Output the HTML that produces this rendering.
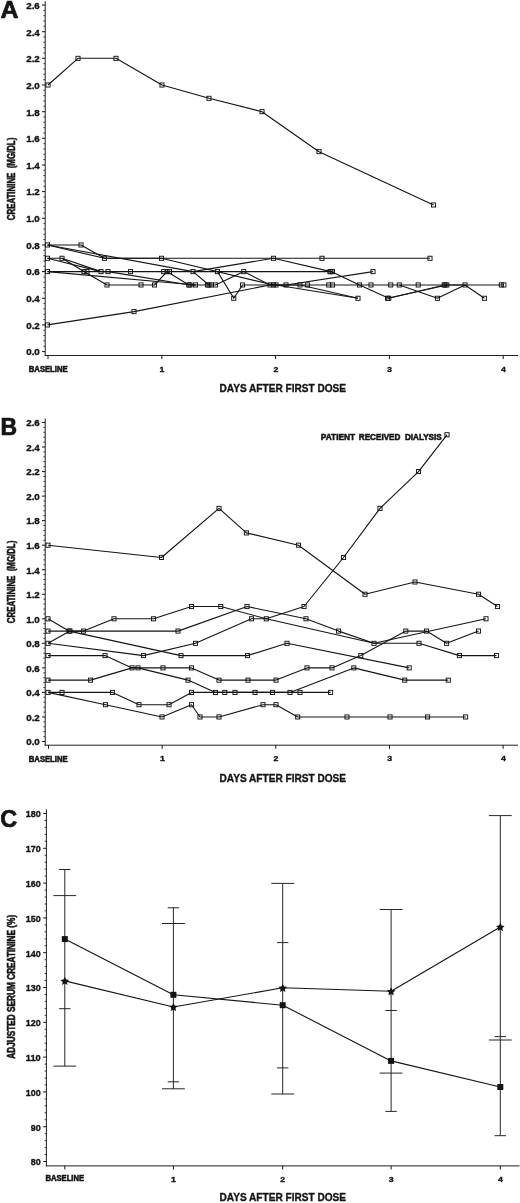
<!DOCTYPE html>
<html><head><meta charset="utf-8"><title>Figure</title>
<style>
html,body{margin:0;padding:0;background:#fff;}
body{width:520px;height:1203px;overflow:hidden;}
svg{display:block;font-family:"Liberation Sans",sans-serif;fill:#141414;}
</style></head><body>
<svg width="520" height="1203" viewBox="0 0 520 1203">
<rect x="0" y="0" width="520" height="1203" fill="#fff"/>
<line x1="45.2" y1="1.2" x2="45.2" y2="356.0" stroke="#141414" stroke-width="0.95"/>
<line x1="44.7" y1="355.5" x2="518.0" y2="355.5" stroke="#141414" stroke-width="0.95"/>
<line x1="42.0" y1="351.6" x2="45.2" y2="351.6" stroke="#141414" stroke-width="1.0"/>
<text x="26.2" y="355.4" font-size="9.9" font-weight="bold" text-anchor="start" xml:space="preserve" textLength="13.6" lengthAdjust="spacingAndGlyphs" stroke="#141414" stroke-width="0.35">0.0</text>
<line x1="43.4" y1="346.3" x2="45.2" y2="346.3" stroke="#141414" stroke-width="0.8"/>
<line x1="43.4" y1="340.9" x2="45.2" y2="340.9" stroke="#141414" stroke-width="0.8"/>
<line x1="43.4" y1="335.6" x2="45.2" y2="335.6" stroke="#141414" stroke-width="0.8"/>
<line x1="43.4" y1="330.3" x2="45.2" y2="330.3" stroke="#141414" stroke-width="0.8"/>
<line x1="42.0" y1="324.9" x2="45.2" y2="324.9" stroke="#141414" stroke-width="1.0"/>
<text x="26.2" y="328.7" font-size="9.9" font-weight="bold" text-anchor="start" xml:space="preserve" textLength="13.6" lengthAdjust="spacingAndGlyphs" stroke="#141414" stroke-width="0.35">0.2</text>
<line x1="43.4" y1="319.6" x2="45.2" y2="319.6" stroke="#141414" stroke-width="0.8"/>
<line x1="43.4" y1="314.3" x2="45.2" y2="314.3" stroke="#141414" stroke-width="0.8"/>
<line x1="43.4" y1="308.9" x2="45.2" y2="308.9" stroke="#141414" stroke-width="0.8"/>
<line x1="43.4" y1="303.6" x2="45.2" y2="303.6" stroke="#141414" stroke-width="0.8"/>
<line x1="42.0" y1="298.3" x2="45.2" y2="298.3" stroke="#141414" stroke-width="1.0"/>
<text x="26.2" y="302.1" font-size="9.9" font-weight="bold" text-anchor="start" xml:space="preserve" textLength="13.6" lengthAdjust="spacingAndGlyphs" stroke="#141414" stroke-width="0.35">0.4</text>
<line x1="43.4" y1="292.9" x2="45.2" y2="292.9" stroke="#141414" stroke-width="0.8"/>
<line x1="43.4" y1="287.6" x2="45.2" y2="287.6" stroke="#141414" stroke-width="0.8"/>
<line x1="43.4" y1="282.3" x2="45.2" y2="282.3" stroke="#141414" stroke-width="0.8"/>
<line x1="43.4" y1="277.0" x2="45.2" y2="277.0" stroke="#141414" stroke-width="0.8"/>
<line x1="42.0" y1="271.6" x2="45.2" y2="271.6" stroke="#141414" stroke-width="1.0"/>
<text x="26.2" y="275.4" font-size="9.9" font-weight="bold" text-anchor="start" xml:space="preserve" textLength="13.6" lengthAdjust="spacingAndGlyphs" stroke="#141414" stroke-width="0.35">0.6</text>
<line x1="43.4" y1="266.3" x2="45.2" y2="266.3" stroke="#141414" stroke-width="0.8"/>
<line x1="43.4" y1="261.0" x2="45.2" y2="261.0" stroke="#141414" stroke-width="0.8"/>
<line x1="43.4" y1="255.6" x2="45.2" y2="255.6" stroke="#141414" stroke-width="0.8"/>
<line x1="43.4" y1="250.3" x2="45.2" y2="250.3" stroke="#141414" stroke-width="0.8"/>
<line x1="42.0" y1="245.0" x2="45.2" y2="245.0" stroke="#141414" stroke-width="1.0"/>
<text x="26.2" y="248.8" font-size="9.9" font-weight="bold" text-anchor="start" xml:space="preserve" textLength="13.6" lengthAdjust="spacingAndGlyphs" stroke="#141414" stroke-width="0.35">0.8</text>
<line x1="43.4" y1="239.6" x2="45.2" y2="239.6" stroke="#141414" stroke-width="0.8"/>
<line x1="43.4" y1="234.3" x2="45.2" y2="234.3" stroke="#141414" stroke-width="0.8"/>
<line x1="43.4" y1="229.0" x2="45.2" y2="229.0" stroke="#141414" stroke-width="0.8"/>
<line x1="43.4" y1="223.6" x2="45.2" y2="223.6" stroke="#141414" stroke-width="0.8"/>
<line x1="42.0" y1="218.3" x2="45.2" y2="218.3" stroke="#141414" stroke-width="1.0"/>
<text x="26.2" y="222.1" font-size="9.9" font-weight="bold" text-anchor="start" xml:space="preserve" textLength="13.6" lengthAdjust="spacingAndGlyphs" stroke="#141414" stroke-width="0.35">1.0</text>
<line x1="43.4" y1="213.0" x2="45.2" y2="213.0" stroke="#141414" stroke-width="0.8"/>
<line x1="43.4" y1="207.6" x2="45.2" y2="207.6" stroke="#141414" stroke-width="0.8"/>
<line x1="43.4" y1="202.3" x2="45.2" y2="202.3" stroke="#141414" stroke-width="0.8"/>
<line x1="43.4" y1="197.0" x2="45.2" y2="197.0" stroke="#141414" stroke-width="0.8"/>
<line x1="42.0" y1="191.6" x2="45.2" y2="191.6" stroke="#141414" stroke-width="1.0"/>
<text x="26.2" y="195.4" font-size="9.9" font-weight="bold" text-anchor="start" xml:space="preserve" textLength="13.6" lengthAdjust="spacingAndGlyphs" stroke="#141414" stroke-width="0.35">1.2</text>
<line x1="43.4" y1="186.3" x2="45.2" y2="186.3" stroke="#141414" stroke-width="0.8"/>
<line x1="43.4" y1="181.0" x2="45.2" y2="181.0" stroke="#141414" stroke-width="0.8"/>
<line x1="43.4" y1="175.6" x2="45.2" y2="175.6" stroke="#141414" stroke-width="0.8"/>
<line x1="43.4" y1="170.3" x2="45.2" y2="170.3" stroke="#141414" stroke-width="0.8"/>
<line x1="42.0" y1="165.0" x2="45.2" y2="165.0" stroke="#141414" stroke-width="1.0"/>
<text x="26.2" y="168.8" font-size="9.9" font-weight="bold" text-anchor="start" xml:space="preserve" textLength="13.6" lengthAdjust="spacingAndGlyphs" stroke="#141414" stroke-width="0.35">1.4</text>
<line x1="43.4" y1="159.6" x2="45.2" y2="159.6" stroke="#141414" stroke-width="0.8"/>
<line x1="43.4" y1="154.3" x2="45.2" y2="154.3" stroke="#141414" stroke-width="0.8"/>
<line x1="43.4" y1="149.0" x2="45.2" y2="149.0" stroke="#141414" stroke-width="0.8"/>
<line x1="43.4" y1="143.7" x2="45.2" y2="143.7" stroke="#141414" stroke-width="0.8"/>
<line x1="42.0" y1="138.3" x2="45.2" y2="138.3" stroke="#141414" stroke-width="1.0"/>
<text x="26.2" y="142.1" font-size="9.9" font-weight="bold" text-anchor="start" xml:space="preserve" textLength="13.6" lengthAdjust="spacingAndGlyphs" stroke="#141414" stroke-width="0.35">1.6</text>
<line x1="43.4" y1="133.0" x2="45.2" y2="133.0" stroke="#141414" stroke-width="0.8"/>
<line x1="43.4" y1="127.7" x2="45.2" y2="127.7" stroke="#141414" stroke-width="0.8"/>
<line x1="43.4" y1="122.3" x2="45.2" y2="122.3" stroke="#141414" stroke-width="0.8"/>
<line x1="43.4" y1="117.0" x2="45.2" y2="117.0" stroke="#141414" stroke-width="0.8"/>
<line x1="42.0" y1="111.7" x2="45.2" y2="111.7" stroke="#141414" stroke-width="1.0"/>
<text x="26.2" y="115.5" font-size="9.9" font-weight="bold" text-anchor="start" xml:space="preserve" textLength="13.6" lengthAdjust="spacingAndGlyphs" stroke="#141414" stroke-width="0.35">1.8</text>
<line x1="43.4" y1="106.3" x2="45.2" y2="106.3" stroke="#141414" stroke-width="0.8"/>
<line x1="43.4" y1="101.0" x2="45.2" y2="101.0" stroke="#141414" stroke-width="0.8"/>
<line x1="43.4" y1="95.7" x2="45.2" y2="95.7" stroke="#141414" stroke-width="0.8"/>
<line x1="43.4" y1="90.3" x2="45.2" y2="90.3" stroke="#141414" stroke-width="0.8"/>
<line x1="42.0" y1="85.0" x2="45.2" y2="85.0" stroke="#141414" stroke-width="1.0"/>
<text x="26.2" y="88.8" font-size="9.9" font-weight="bold" text-anchor="start" xml:space="preserve" textLength="13.6" lengthAdjust="spacingAndGlyphs" stroke="#141414" stroke-width="0.35">2.0</text>
<line x1="43.4" y1="79.7" x2="45.2" y2="79.7" stroke="#141414" stroke-width="0.8"/>
<line x1="43.4" y1="74.3" x2="45.2" y2="74.3" stroke="#141414" stroke-width="0.8"/>
<line x1="43.4" y1="69.0" x2="45.2" y2="69.0" stroke="#141414" stroke-width="0.8"/>
<line x1="43.4" y1="63.7" x2="45.2" y2="63.7" stroke="#141414" stroke-width="0.8"/>
<line x1="42.0" y1="58.3" x2="45.2" y2="58.3" stroke="#141414" stroke-width="1.0"/>
<text x="26.2" y="62.1" font-size="9.9" font-weight="bold" text-anchor="start" xml:space="preserve" textLength="13.6" lengthAdjust="spacingAndGlyphs" stroke="#141414" stroke-width="0.35">2.2</text>
<line x1="43.4" y1="53.0" x2="45.2" y2="53.0" stroke="#141414" stroke-width="0.8"/>
<line x1="43.4" y1="47.7" x2="45.2" y2="47.7" stroke="#141414" stroke-width="0.8"/>
<line x1="43.4" y1="42.3" x2="45.2" y2="42.3" stroke="#141414" stroke-width="0.8"/>
<line x1="43.4" y1="37.0" x2="45.2" y2="37.0" stroke="#141414" stroke-width="0.8"/>
<line x1="42.0" y1="31.7" x2="45.2" y2="31.7" stroke="#141414" stroke-width="1.0"/>
<text x="26.2" y="35.5" font-size="9.9" font-weight="bold" text-anchor="start" xml:space="preserve" textLength="13.6" lengthAdjust="spacingAndGlyphs" stroke="#141414" stroke-width="0.35">2.4</text>
<line x1="43.4" y1="26.3" x2="45.2" y2="26.3" stroke="#141414" stroke-width="0.8"/>
<line x1="43.4" y1="21.0" x2="45.2" y2="21.0" stroke="#141414" stroke-width="0.8"/>
<line x1="43.4" y1="15.7" x2="45.2" y2="15.7" stroke="#141414" stroke-width="0.8"/>
<line x1="43.4" y1="10.4" x2="45.2" y2="10.4" stroke="#141414" stroke-width="0.8"/>
<line x1="42.0" y1="5.0" x2="45.2" y2="5.0" stroke="#141414" stroke-width="1.0"/>
<text x="26.2" y="8.8" font-size="9.9" font-weight="bold" text-anchor="start" xml:space="preserve" textLength="13.6" lengthAdjust="spacingAndGlyphs" stroke="#141414" stroke-width="0.35">2.6</text>
<line x1="48.0" y1="355.5" x2="48.0" y2="359.1" stroke="#141414" stroke-width="1.0"/>
<text x="28.8" y="372.0" font-size="8.2" font-weight="bold" text-anchor="start" xml:space="preserve" textLength="38.8" lengthAdjust="spacingAndGlyphs" stroke="#141414" stroke-width="0.55">BASELINE</text>
<line x1="161.8" y1="355.5" x2="161.8" y2="359.1" stroke="#141414" stroke-width="1.0"/>
<text x="159.6" y="371.5" font-size="7.8" font-weight="bold" text-anchor="start" xml:space="preserve" textLength="4.9" lengthAdjust="spacingAndGlyphs" stroke="#141414" stroke-width="0.35">1</text>
<line x1="275.6" y1="355.5" x2="275.6" y2="359.1" stroke="#141414" stroke-width="1.0"/>
<text x="273.4" y="371.5" font-size="7.8" font-weight="bold" text-anchor="start" xml:space="preserve" textLength="4.9" lengthAdjust="spacingAndGlyphs" stroke="#141414" stroke-width="0.35">2</text>
<line x1="389.4" y1="355.5" x2="389.4" y2="359.1" stroke="#141414" stroke-width="1.0"/>
<text x="387.1" y="371.5" font-size="7.8" font-weight="bold" text-anchor="start" xml:space="preserve" textLength="4.9" lengthAdjust="spacingAndGlyphs" stroke="#141414" stroke-width="0.35">3</text>
<line x1="503.2" y1="355.5" x2="503.2" y2="359.1" stroke="#141414" stroke-width="1.0"/>
<text x="500.9" y="371.5" font-size="7.8" font-weight="bold" text-anchor="start" xml:space="preserve" textLength="4.9" lengthAdjust="spacingAndGlyphs" stroke="#141414" stroke-width="0.35">4</text>
<text x="219.5" y="391.7" font-size="10.7" font-weight="bold" text-anchor="start" xml:space="preserve" textLength="126.6" lengthAdjust="spacingAndGlyphs" stroke="#141414" stroke-width="0.35">DAYS AFTER FIRST DOSE</text>
<text x="-26.1" y="179.0" font-size="10.4" font-weight="bold" text-anchor="start" xml:space="preserve" textLength="82.5" lengthAdjust="spacingAndGlyphs" transform="rotate(-90 15.1 179.0)" stroke="#141414" stroke-width="0.55">CREATININE  (MG/DL)</text>
<text x="0.6" y="18.1" font-size="24" font-weight="bold" text-anchor="start" xml:space="preserve" textLength="18.0" lengthAdjust="spacingAndGlyphs" stroke="#141414" stroke-width="0.7">A</text>
<polyline points="48.0,85.0 78.0,58.3 116.0,58.3 162.0,85.0 209.0,98.3 262.0,111.7 319.0,151.7 433.5,205.0" fill="none" stroke="#141414" stroke-width="1.12" stroke-linejoin="round"/>
<polyline points="47.5,245.0 81.0,245.0 104.5,258.3 322.0,258.3 430.0,258.3" fill="none" stroke="#141414" stroke-width="1.12" stroke-linejoin="round"/>
<polyline points="47.5,245.0 104.5,258.3 161.5,258.3 273.5,285.0 300.0,285.0 358.0,298.3" fill="none" stroke="#141414" stroke-width="1.12" stroke-linejoin="round"/>
<polyline points="47.5,245.0 193.0,271.6 209.0,285.0 215.5,285.0 243.8,271.6 270.0,285.0 286.0,285.0 373.0,271.6" fill="none" stroke="#141414" stroke-width="1.12" stroke-linejoin="round"/>
<polyline points="47.5,258.3 62.0,258.3 84.0,271.6 107.0,285.0 141.0,285.0 154.5,285.0 167.0,271.6 188.8,285.0 207.5,285.0 211.2,285.0" fill="none" stroke="#141414" stroke-width="1.12" stroke-linejoin="round"/>
<polyline points="47.5,258.3 101.0,271.6 108.0,271.6 190.0,285.0 195.5,285.0" fill="none" stroke="#141414" stroke-width="1.12" stroke-linejoin="round"/>
<polyline points="62.0,258.3 101.0,271.6" fill="none" stroke="#141414" stroke-width="1.12" stroke-linejoin="round"/>
<polyline points="47.5,271.6 87.0,271.6 101.0,271.6 108.0,271.6 130.5,271.6 163.7,271.6 169.5,271.6 193.0,271.6 217.5,271.6 233.8,298.3 242.5,285.0 270.0,285.0 276.0,285.0 358.0,298.3" fill="none" stroke="#141414" stroke-width="1.12" stroke-linejoin="round"/>
<polyline points="47.5,271.6 195.5,285.0" fill="none" stroke="#141414" stroke-width="1.12" stroke-linejoin="round"/>
<polyline points="47.5,324.9 134.0,311.6 270.0,285.0 276.0,285.0 286.0,285.0 307.5,285.0 328.8,285.0 332.5,285.0 359.5,285.0 371.0,285.0 390.7,285.0 399.3,285.0 418.2,285.0 444.2,285.0 446.8,285.0 465.0,285.0 501.3,285.0 503.9,285.0" fill="none" stroke="#141414" stroke-width="1.12" stroke-linejoin="round"/>
<polyline points="193.0,271.6 273.5,258.3 331.0,271.6 359.5,285.0 388.8,298.3 445.0,285.0 465.0,285.0 484.4,298.3" fill="none" stroke="#141414" stroke-width="1.12" stroke-linejoin="round"/>
<polyline points="217.5,271.6 243.8,271.6 330.0,271.6 332.5,271.6" fill="none" stroke="#141414" stroke-width="1.12" stroke-linejoin="round"/>
<polyline points="399.3,285.0 437.4,298.3 465.0,285.0" fill="none" stroke="#141414" stroke-width="1.12" stroke-linejoin="round"/>
<polyline points="387.6,298.3 446.8,285.0" fill="none" stroke="#141414" stroke-width="1.12" stroke-linejoin="round"/>
<rect x="45.95" y="82.95" width="4.1" height="4.1" fill="none" stroke="#141414" stroke-width="0.95"/>
<rect x="75.95" y="56.29" width="4.1" height="4.1" fill="none" stroke="#141414" stroke-width="0.95"/>
<rect x="113.95" y="56.29" width="4.1" height="4.1" fill="none" stroke="#141414" stroke-width="0.95"/>
<rect x="159.95" y="82.95" width="4.1" height="4.1" fill="none" stroke="#141414" stroke-width="0.95"/>
<rect x="206.95" y="96.28" width="4.1" height="4.1" fill="none" stroke="#141414" stroke-width="0.95"/>
<rect x="259.95" y="109.61" width="4.1" height="4.1" fill="none" stroke="#141414" stroke-width="0.95"/>
<rect x="316.95" y="149.60" width="4.1" height="4.1" fill="none" stroke="#141414" stroke-width="0.95"/>
<rect x="431.45" y="202.92" width="4.1" height="4.1" fill="none" stroke="#141414" stroke-width="0.95"/>
<rect x="45.45" y="242.91" width="4.1" height="4.1" fill="none" stroke="#141414" stroke-width="0.95"/>
<rect x="78.95" y="242.91" width="4.1" height="4.1" fill="none" stroke="#141414" stroke-width="0.95"/>
<rect x="102.45" y="256.24" width="4.1" height="4.1" fill="none" stroke="#141414" stroke-width="0.95"/>
<rect x="319.95" y="256.24" width="4.1" height="4.1" fill="none" stroke="#141414" stroke-width="0.95"/>
<rect x="427.95" y="256.24" width="4.1" height="4.1" fill="none" stroke="#141414" stroke-width="0.95"/>
<rect x="159.45" y="256.24" width="4.1" height="4.1" fill="none" stroke="#141414" stroke-width="0.95"/>
<rect x="271.45" y="282.90" width="4.1" height="4.1" fill="none" stroke="#141414" stroke-width="0.95"/>
<rect x="297.95" y="282.90" width="4.1" height="4.1" fill="none" stroke="#141414" stroke-width="0.95"/>
<rect x="355.95" y="296.23" width="4.1" height="4.1" fill="none" stroke="#141414" stroke-width="0.95"/>
<rect x="190.95" y="269.57" width="4.1" height="4.1" fill="none" stroke="#141414" stroke-width="0.95"/>
<rect x="206.95" y="282.90" width="4.1" height="4.1" fill="none" stroke="#141414" stroke-width="0.95"/>
<rect x="213.45" y="282.90" width="4.1" height="4.1" fill="none" stroke="#141414" stroke-width="0.95"/>
<rect x="241.70" y="269.57" width="4.1" height="4.1" fill="none" stroke="#141414" stroke-width="0.95"/>
<rect x="267.95" y="282.90" width="4.1" height="4.1" fill="none" stroke="#141414" stroke-width="0.95"/>
<rect x="283.95" y="282.90" width="4.1" height="4.1" fill="none" stroke="#141414" stroke-width="0.95"/>
<rect x="370.95" y="269.57" width="4.1" height="4.1" fill="none" stroke="#141414" stroke-width="0.95"/>
<rect x="45.45" y="256.24" width="4.1" height="4.1" fill="none" stroke="#141414" stroke-width="0.95"/>
<rect x="59.95" y="256.24" width="4.1" height="4.1" fill="none" stroke="#141414" stroke-width="0.95"/>
<rect x="81.95" y="269.57" width="4.1" height="4.1" fill="none" stroke="#141414" stroke-width="0.95"/>
<rect x="104.95" y="282.90" width="4.1" height="4.1" fill="none" stroke="#141414" stroke-width="0.95"/>
<rect x="138.95" y="282.90" width="4.1" height="4.1" fill="none" stroke="#141414" stroke-width="0.95"/>
<rect x="152.45" y="282.90" width="4.1" height="4.1" fill="none" stroke="#141414" stroke-width="0.95"/>
<rect x="164.95" y="269.57" width="4.1" height="4.1" fill="none" stroke="#141414" stroke-width="0.95"/>
<rect x="186.70" y="282.90" width="4.1" height="4.1" fill="none" stroke="#141414" stroke-width="0.95"/>
<rect x="205.45" y="282.90" width="4.1" height="4.1" fill="none" stroke="#141414" stroke-width="0.95"/>
<rect x="209.20" y="282.90" width="4.1" height="4.1" fill="none" stroke="#141414" stroke-width="0.95"/>
<rect x="98.95" y="269.57" width="4.1" height="4.1" fill="none" stroke="#141414" stroke-width="0.95"/>
<rect x="105.95" y="269.57" width="4.1" height="4.1" fill="none" stroke="#141414" stroke-width="0.95"/>
<rect x="187.95" y="282.90" width="4.1" height="4.1" fill="none" stroke="#141414" stroke-width="0.95"/>
<rect x="193.45" y="282.90" width="4.1" height="4.1" fill="none" stroke="#141414" stroke-width="0.95"/>
<rect x="45.45" y="269.57" width="4.1" height="4.1" fill="none" stroke="#141414" stroke-width="0.95"/>
<rect x="84.95" y="269.57" width="4.1" height="4.1" fill="none" stroke="#141414" stroke-width="0.95"/>
<rect x="128.45" y="269.57" width="4.1" height="4.1" fill="none" stroke="#141414" stroke-width="0.95"/>
<rect x="161.65" y="269.57" width="4.1" height="4.1" fill="none" stroke="#141414" stroke-width="0.95"/>
<rect x="167.45" y="269.57" width="4.1" height="4.1" fill="none" stroke="#141414" stroke-width="0.95"/>
<rect x="215.45" y="269.57" width="4.1" height="4.1" fill="none" stroke="#141414" stroke-width="0.95"/>
<rect x="231.70" y="296.23" width="4.1" height="4.1" fill="none" stroke="#141414" stroke-width="0.95"/>
<rect x="240.45" y="282.90" width="4.1" height="4.1" fill="none" stroke="#141414" stroke-width="0.95"/>
<rect x="273.95" y="282.90" width="4.1" height="4.1" fill="none" stroke="#141414" stroke-width="0.95"/>
<rect x="45.45" y="322.89" width="4.1" height="4.1" fill="none" stroke="#141414" stroke-width="0.95"/>
<rect x="131.95" y="309.56" width="4.1" height="4.1" fill="none" stroke="#141414" stroke-width="0.95"/>
<rect x="305.45" y="282.90" width="4.1" height="4.1" fill="none" stroke="#141414" stroke-width="0.95"/>
<rect x="326.70" y="282.90" width="4.1" height="4.1" fill="none" stroke="#141414" stroke-width="0.95"/>
<rect x="330.45" y="282.90" width="4.1" height="4.1" fill="none" stroke="#141414" stroke-width="0.95"/>
<rect x="357.45" y="282.90" width="4.1" height="4.1" fill="none" stroke="#141414" stroke-width="0.95"/>
<rect x="368.95" y="282.90" width="4.1" height="4.1" fill="none" stroke="#141414" stroke-width="0.95"/>
<rect x="388.65" y="282.90" width="4.1" height="4.1" fill="none" stroke="#141414" stroke-width="0.95"/>
<rect x="397.25" y="282.90" width="4.1" height="4.1" fill="none" stroke="#141414" stroke-width="0.95"/>
<rect x="416.15" y="282.90" width="4.1" height="4.1" fill="none" stroke="#141414" stroke-width="0.95"/>
<rect x="442.15" y="282.90" width="4.1" height="4.1" fill="none" stroke="#141414" stroke-width="0.95"/>
<rect x="444.75" y="282.90" width="4.1" height="4.1" fill="none" stroke="#141414" stroke-width="0.95"/>
<rect x="462.95" y="282.90" width="4.1" height="4.1" fill="none" stroke="#141414" stroke-width="0.95"/>
<rect x="499.25" y="282.90" width="4.1" height="4.1" fill="none" stroke="#141414" stroke-width="0.95"/>
<rect x="501.85" y="282.90" width="4.1" height="4.1" fill="none" stroke="#141414" stroke-width="0.95"/>
<rect x="271.45" y="256.24" width="4.1" height="4.1" fill="none" stroke="#141414" stroke-width="0.95"/>
<rect x="328.95" y="269.57" width="4.1" height="4.1" fill="none" stroke="#141414" stroke-width="0.95"/>
<rect x="386.70" y="296.23" width="4.1" height="4.1" fill="none" stroke="#141414" stroke-width="0.95"/>
<rect x="442.95" y="282.90" width="4.1" height="4.1" fill="none" stroke="#141414" stroke-width="0.95"/>
<rect x="482.35" y="296.23" width="4.1" height="4.1" fill="none" stroke="#141414" stroke-width="0.95"/>
<rect x="327.95" y="269.57" width="4.1" height="4.1" fill="none" stroke="#141414" stroke-width="0.95"/>
<rect x="330.45" y="269.57" width="4.1" height="4.1" fill="none" stroke="#141414" stroke-width="0.95"/>
<rect x="435.35" y="296.23" width="4.1" height="4.1" fill="none" stroke="#141414" stroke-width="0.95"/>
<rect x="385.55" y="296.23" width="4.1" height="4.1" fill="none" stroke="#141414" stroke-width="0.95"/>
<line x1="45.2" y1="418.5" x2="45.2" y2="745.7" stroke="#141414" stroke-width="0.95"/>
<line x1="44.7" y1="745.2" x2="518.0" y2="745.2" stroke="#141414" stroke-width="0.95"/>
<line x1="42.0" y1="741.5" x2="45.2" y2="741.5" stroke="#141414" stroke-width="1.0"/>
<text x="26.2" y="745.3" font-size="9.9" font-weight="bold" text-anchor="start" xml:space="preserve" textLength="13.6" lengthAdjust="spacingAndGlyphs" stroke="#141414" stroke-width="0.35">0.0</text>
<line x1="43.4" y1="736.6" x2="45.2" y2="736.6" stroke="#141414" stroke-width="0.8"/>
<line x1="43.4" y1="731.7" x2="45.2" y2="731.7" stroke="#141414" stroke-width="0.8"/>
<line x1="43.4" y1="726.8" x2="45.2" y2="726.8" stroke="#141414" stroke-width="0.8"/>
<line x1="43.4" y1="721.9" x2="45.2" y2="721.9" stroke="#141414" stroke-width="0.8"/>
<line x1="42.0" y1="717.0" x2="45.2" y2="717.0" stroke="#141414" stroke-width="1.0"/>
<text x="26.2" y="720.8" font-size="9.9" font-weight="bold" text-anchor="start" xml:space="preserve" textLength="13.6" lengthAdjust="spacingAndGlyphs" stroke="#141414" stroke-width="0.35">0.2</text>
<line x1="43.4" y1="712.1" x2="45.2" y2="712.1" stroke="#141414" stroke-width="0.8"/>
<line x1="43.4" y1="707.1" x2="45.2" y2="707.1" stroke="#141414" stroke-width="0.8"/>
<line x1="43.4" y1="702.2" x2="45.2" y2="702.2" stroke="#141414" stroke-width="0.8"/>
<line x1="43.4" y1="697.3" x2="45.2" y2="697.3" stroke="#141414" stroke-width="0.8"/>
<line x1="42.0" y1="692.4" x2="45.2" y2="692.4" stroke="#141414" stroke-width="1.0"/>
<text x="26.2" y="696.2" font-size="9.9" font-weight="bold" text-anchor="start" xml:space="preserve" textLength="13.6" lengthAdjust="spacingAndGlyphs" stroke="#141414" stroke-width="0.35">0.4</text>
<line x1="43.4" y1="687.5" x2="45.2" y2="687.5" stroke="#141414" stroke-width="0.8"/>
<line x1="43.4" y1="682.6" x2="45.2" y2="682.6" stroke="#141414" stroke-width="0.8"/>
<line x1="43.4" y1="677.7" x2="45.2" y2="677.7" stroke="#141414" stroke-width="0.8"/>
<line x1="43.4" y1="672.8" x2="45.2" y2="672.8" stroke="#141414" stroke-width="0.8"/>
<line x1="42.0" y1="667.9" x2="45.2" y2="667.9" stroke="#141414" stroke-width="1.0"/>
<text x="26.2" y="671.7" font-size="9.9" font-weight="bold" text-anchor="start" xml:space="preserve" textLength="13.6" lengthAdjust="spacingAndGlyphs" stroke="#141414" stroke-width="0.35">0.6</text>
<line x1="43.4" y1="663.0" x2="45.2" y2="663.0" stroke="#141414" stroke-width="0.8"/>
<line x1="43.4" y1="658.1" x2="45.2" y2="658.1" stroke="#141414" stroke-width="0.8"/>
<line x1="43.4" y1="653.2" x2="45.2" y2="653.2" stroke="#141414" stroke-width="0.8"/>
<line x1="43.4" y1="648.2" x2="45.2" y2="648.2" stroke="#141414" stroke-width="0.8"/>
<line x1="42.0" y1="643.3" x2="45.2" y2="643.3" stroke="#141414" stroke-width="1.0"/>
<text x="26.2" y="647.1" font-size="9.9" font-weight="bold" text-anchor="start" xml:space="preserve" textLength="13.6" lengthAdjust="spacingAndGlyphs" stroke="#141414" stroke-width="0.35">0.8</text>
<line x1="43.4" y1="638.4" x2="45.2" y2="638.4" stroke="#141414" stroke-width="0.8"/>
<line x1="43.4" y1="633.5" x2="45.2" y2="633.5" stroke="#141414" stroke-width="0.8"/>
<line x1="43.4" y1="628.6" x2="45.2" y2="628.6" stroke="#141414" stroke-width="0.8"/>
<line x1="43.4" y1="623.7" x2="45.2" y2="623.7" stroke="#141414" stroke-width="0.8"/>
<line x1="42.0" y1="618.8" x2="45.2" y2="618.8" stroke="#141414" stroke-width="1.0"/>
<text x="26.2" y="622.6" font-size="9.9" font-weight="bold" text-anchor="start" xml:space="preserve" textLength="13.6" lengthAdjust="spacingAndGlyphs" stroke="#141414" stroke-width="0.35">1.0</text>
<line x1="43.4" y1="613.9" x2="45.2" y2="613.9" stroke="#141414" stroke-width="0.8"/>
<line x1="43.4" y1="609.0" x2="45.2" y2="609.0" stroke="#141414" stroke-width="0.8"/>
<line x1="43.4" y1="604.1" x2="45.2" y2="604.1" stroke="#141414" stroke-width="0.8"/>
<line x1="43.4" y1="599.2" x2="45.2" y2="599.2" stroke="#141414" stroke-width="0.8"/>
<line x1="42.0" y1="594.3" x2="45.2" y2="594.3" stroke="#141414" stroke-width="1.0"/>
<text x="26.2" y="598.1" font-size="9.9" font-weight="bold" text-anchor="start" xml:space="preserve" textLength="13.6" lengthAdjust="spacingAndGlyphs" stroke="#141414" stroke-width="0.35">1.2</text>
<line x1="43.4" y1="589.4" x2="45.2" y2="589.4" stroke="#141414" stroke-width="0.8"/>
<line x1="43.4" y1="584.4" x2="45.2" y2="584.4" stroke="#141414" stroke-width="0.8"/>
<line x1="43.4" y1="579.5" x2="45.2" y2="579.5" stroke="#141414" stroke-width="0.8"/>
<line x1="43.4" y1="574.6" x2="45.2" y2="574.6" stroke="#141414" stroke-width="0.8"/>
<line x1="42.0" y1="569.7" x2="45.2" y2="569.7" stroke="#141414" stroke-width="1.0"/>
<text x="26.2" y="573.5" font-size="9.9" font-weight="bold" text-anchor="start" xml:space="preserve" textLength="13.6" lengthAdjust="spacingAndGlyphs" stroke="#141414" stroke-width="0.35">1.4</text>
<line x1="43.4" y1="564.8" x2="45.2" y2="564.8" stroke="#141414" stroke-width="0.8"/>
<line x1="43.4" y1="559.9" x2="45.2" y2="559.9" stroke="#141414" stroke-width="0.8"/>
<line x1="43.4" y1="555.0" x2="45.2" y2="555.0" stroke="#141414" stroke-width="0.8"/>
<line x1="43.4" y1="550.1" x2="45.2" y2="550.1" stroke="#141414" stroke-width="0.8"/>
<line x1="42.0" y1="545.2" x2="45.2" y2="545.2" stroke="#141414" stroke-width="1.0"/>
<text x="26.2" y="549.0" font-size="9.9" font-weight="bold" text-anchor="start" xml:space="preserve" textLength="13.6" lengthAdjust="spacingAndGlyphs" stroke="#141414" stroke-width="0.35">1.6</text>
<line x1="43.4" y1="540.3" x2="45.2" y2="540.3" stroke="#141414" stroke-width="0.8"/>
<line x1="43.4" y1="535.4" x2="45.2" y2="535.4" stroke="#141414" stroke-width="0.8"/>
<line x1="43.4" y1="530.5" x2="45.2" y2="530.5" stroke="#141414" stroke-width="0.8"/>
<line x1="43.4" y1="525.5" x2="45.2" y2="525.5" stroke="#141414" stroke-width="0.8"/>
<line x1="42.0" y1="520.6" x2="45.2" y2="520.6" stroke="#141414" stroke-width="1.0"/>
<text x="26.2" y="524.4" font-size="9.9" font-weight="bold" text-anchor="start" xml:space="preserve" textLength="13.6" lengthAdjust="spacingAndGlyphs" stroke="#141414" stroke-width="0.35">1.8</text>
<line x1="43.4" y1="515.7" x2="45.2" y2="515.7" stroke="#141414" stroke-width="0.8"/>
<line x1="43.4" y1="510.8" x2="45.2" y2="510.8" stroke="#141414" stroke-width="0.8"/>
<line x1="43.4" y1="505.9" x2="45.2" y2="505.9" stroke="#141414" stroke-width="0.8"/>
<line x1="43.4" y1="501.0" x2="45.2" y2="501.0" stroke="#141414" stroke-width="0.8"/>
<line x1="42.0" y1="496.1" x2="45.2" y2="496.1" stroke="#141414" stroke-width="1.0"/>
<text x="26.2" y="499.9" font-size="9.9" font-weight="bold" text-anchor="start" xml:space="preserve" textLength="13.6" lengthAdjust="spacingAndGlyphs" stroke="#141414" stroke-width="0.35">2.0</text>
<line x1="43.4" y1="491.2" x2="45.2" y2="491.2" stroke="#141414" stroke-width="0.8"/>
<line x1="43.4" y1="486.3" x2="45.2" y2="486.3" stroke="#141414" stroke-width="0.8"/>
<line x1="43.4" y1="481.4" x2="45.2" y2="481.4" stroke="#141414" stroke-width="0.8"/>
<line x1="43.4" y1="476.5" x2="45.2" y2="476.5" stroke="#141414" stroke-width="0.8"/>
<line x1="42.0" y1="471.6" x2="45.2" y2="471.6" stroke="#141414" stroke-width="1.0"/>
<text x="26.2" y="475.4" font-size="9.9" font-weight="bold" text-anchor="start" xml:space="preserve" textLength="13.6" lengthAdjust="spacingAndGlyphs" stroke="#141414" stroke-width="0.35">2.2</text>
<line x1="43.4" y1="466.7" x2="45.2" y2="466.7" stroke="#141414" stroke-width="0.8"/>
<line x1="43.4" y1="461.7" x2="45.2" y2="461.7" stroke="#141414" stroke-width="0.8"/>
<line x1="43.4" y1="456.8" x2="45.2" y2="456.8" stroke="#141414" stroke-width="0.8"/>
<line x1="43.4" y1="451.9" x2="45.2" y2="451.9" stroke="#141414" stroke-width="0.8"/>
<line x1="42.0" y1="447.0" x2="45.2" y2="447.0" stroke="#141414" stroke-width="1.0"/>
<text x="26.2" y="450.8" font-size="9.9" font-weight="bold" text-anchor="start" xml:space="preserve" textLength="13.6" lengthAdjust="spacingAndGlyphs" stroke="#141414" stroke-width="0.35">2.4</text>
<line x1="43.4" y1="442.1" x2="45.2" y2="442.1" stroke="#141414" stroke-width="0.8"/>
<line x1="43.4" y1="437.2" x2="45.2" y2="437.2" stroke="#141414" stroke-width="0.8"/>
<line x1="43.4" y1="432.3" x2="45.2" y2="432.3" stroke="#141414" stroke-width="0.8"/>
<line x1="43.4" y1="427.4" x2="45.2" y2="427.4" stroke="#141414" stroke-width="0.8"/>
<line x1="42.0" y1="422.5" x2="45.2" y2="422.5" stroke="#141414" stroke-width="1.0"/>
<text x="26.2" y="426.3" font-size="9.9" font-weight="bold" text-anchor="start" xml:space="preserve" textLength="13.6" lengthAdjust="spacingAndGlyphs" stroke="#141414" stroke-width="0.35">2.6</text>
<line x1="48.5" y1="745.2" x2="48.5" y2="748.8" stroke="#141414" stroke-width="1.0"/>
<text x="28.8" y="761.6" font-size="8.2" font-weight="bold" text-anchor="start" xml:space="preserve" textLength="38.8" lengthAdjust="spacingAndGlyphs" stroke="#141414" stroke-width="0.55">BASELINE</text>
<line x1="162.2" y1="745.2" x2="162.2" y2="748.8" stroke="#141414" stroke-width="1.0"/>
<text x="159.9" y="761.1" font-size="7.8" font-weight="bold" text-anchor="start" xml:space="preserve" textLength="4.9" lengthAdjust="spacingAndGlyphs" stroke="#141414" stroke-width="0.35">1</text>
<line x1="275.8" y1="745.2" x2="275.8" y2="748.8" stroke="#141414" stroke-width="1.0"/>
<text x="273.6" y="761.1" font-size="7.8" font-weight="bold" text-anchor="start" xml:space="preserve" textLength="4.9" lengthAdjust="spacingAndGlyphs" stroke="#141414" stroke-width="0.35">2</text>
<line x1="389.5" y1="745.2" x2="389.5" y2="748.8" stroke="#141414" stroke-width="1.0"/>
<text x="387.2" y="761.1" font-size="7.8" font-weight="bold" text-anchor="start" xml:space="preserve" textLength="4.9" lengthAdjust="spacingAndGlyphs" stroke="#141414" stroke-width="0.35">3</text>
<line x1="503.1" y1="745.2" x2="503.1" y2="748.8" stroke="#141414" stroke-width="1.0"/>
<text x="500.9" y="761.1" font-size="7.8" font-weight="bold" text-anchor="start" xml:space="preserve" textLength="4.9" lengthAdjust="spacingAndGlyphs" stroke="#141414" stroke-width="0.35">4</text>
<text x="219.5" y="781.9" font-size="10.7" font-weight="bold" text-anchor="start" xml:space="preserve" textLength="126.6" lengthAdjust="spacingAndGlyphs" stroke="#141414" stroke-width="0.35">DAYS AFTER FIRST DOSE</text>
<text x="-26.1" y="582.0" font-size="10.4" font-weight="bold" text-anchor="start" xml:space="preserve" textLength="82.5" lengthAdjust="spacingAndGlyphs" transform="rotate(-90 15.1 582.0)" stroke="#141414" stroke-width="0.55">CREATININE  (MG/DL)</text>
<text x="0.5" y="435.0" font-size="24" font-weight="bold" text-anchor="start" xml:space="preserve" textLength="16.6" lengthAdjust="spacingAndGlyphs" stroke="#141414" stroke-width="0.7">B</text>
<text x="320.8" y="440.1" font-size="9.6" font-weight="bold" text-anchor="start" xml:space="preserve" textLength="34.2" lengthAdjust="spacingAndGlyphs" stroke="#141414" stroke-width="0.6">PATIENT</text>
<text x="358.8" y="440.1" font-size="9.6" font-weight="bold" text-anchor="start" xml:space="preserve" textLength="41.6" lengthAdjust="spacingAndGlyphs" stroke="#141414" stroke-width="0.6">RECEIVED</text>
<text x="405.0" y="440.1" font-size="9.6" font-weight="bold" text-anchor="start" xml:space="preserve" textLength="36.6" lengthAdjust="spacingAndGlyphs" stroke="#141414" stroke-width="0.6">DIALYSIS</text>
<polyline points="48.0,545.2 161.5,557.5 219.0,508.4 246.4,532.9 298.5,545.2 365.0,594.3 415.0,582.0 478.5,594.3 497.5,606.5" fill="none" stroke="#141414" stroke-width="1.12" stroke-linejoin="round"/>
<polyline points="48.0,643.3 70.0,631.1 83.5,631.1 114.0,618.8 153.5,618.8 191.5,606.5 220.8,606.5 266.3,618.8 374.0,643.3 486.0,618.8" fill="none" stroke="#141414" stroke-width="1.12" stroke-linejoin="round"/>
<polyline points="48.0,643.3 143.5,655.6 195.5,643.3 251.5,618.8 266.3,618.8 304.0,606.5 343.5,557.5 380.0,508.4 418.5,471.6 447.0,434.8" fill="none" stroke="#141414" stroke-width="1.12" stroke-linejoin="round"/>
<polyline points="48.0,631.1 69.0,631.1 178.0,631.1 247.0,606.5 306.0,618.8 338.6,631.1 374.0,643.3 419.0,643.3 459.4,655.6 496.5,655.6" fill="none" stroke="#141414" stroke-width="1.12" stroke-linejoin="round"/>
<polyline points="48.0,618.8 69.0,631.1 181.0,655.6 247.5,655.6 287.0,643.3 409.2,667.9" fill="none" stroke="#141414" stroke-width="1.12" stroke-linejoin="round"/>
<polyline points="48.0,655.6 105.0,655.6 132.0,667.9 138.0,667.9 163.0,667.9 191.5,667.9 219.0,680.1 248.0,680.1 276.0,680.1 307.0,667.9 332.0,667.9 360.8,655.6 405.8,631.1 426.5,631.1 446.6,643.3 478.5,631.1" fill="none" stroke="#141414" stroke-width="1.12" stroke-linejoin="round"/>
<polyline points="48.0,680.1 90.5,680.1 132.0,667.9 138.0,667.9 188.0,680.1 215.5,692.4 224.8,692.4 235.0,692.4 255.0,692.4 272.5,692.4 290.0,692.4 353.8,667.9 404.7,680.1 448.3,680.1" fill="none" stroke="#141414" stroke-width="1.12" stroke-linejoin="round"/>
<polyline points="48.0,692.4 62.0,692.4 112.5,692.4 139.0,704.7 169.0,704.7 191.5,692.4 215.5,692.4 300.0,692.4 330.6,692.4" fill="none" stroke="#141414" stroke-width="1.12" stroke-linejoin="round"/>
<polyline points="48.0,692.4 105.5,704.7 162.0,717.0 191.5,704.7 200.0,717.0 219.0,717.0 263.0,704.7 276.0,704.7 297.7,717.0 347.0,717.0 390.0,717.0 427.6,717.0 465.6,717.0" fill="none" stroke="#141414" stroke-width="1.12" stroke-linejoin="round"/>
<rect x="45.95" y="543.13" width="4.1" height="4.1" fill="none" stroke="#141414" stroke-width="0.95"/>
<rect x="159.45" y="555.40" width="4.1" height="4.1" fill="none" stroke="#141414" stroke-width="0.95"/>
<rect x="216.95" y="506.32" width="4.1" height="4.1" fill="none" stroke="#141414" stroke-width="0.95"/>
<rect x="244.35" y="530.86" width="4.1" height="4.1" fill="none" stroke="#141414" stroke-width="0.95"/>
<rect x="296.45" y="543.13" width="4.1" height="4.1" fill="none" stroke="#141414" stroke-width="0.95"/>
<rect x="362.95" y="592.21" width="4.1" height="4.1" fill="none" stroke="#141414" stroke-width="0.95"/>
<rect x="412.95" y="579.94" width="4.1" height="4.1" fill="none" stroke="#141414" stroke-width="0.95"/>
<rect x="476.45" y="592.21" width="4.1" height="4.1" fill="none" stroke="#141414" stroke-width="0.95"/>
<rect x="495.45" y="604.48" width="4.1" height="4.1" fill="none" stroke="#141414" stroke-width="0.95"/>
<rect x="45.95" y="641.29" width="4.1" height="4.1" fill="none" stroke="#141414" stroke-width="0.95"/>
<rect x="67.95" y="629.02" width="4.1" height="4.1" fill="none" stroke="#141414" stroke-width="0.95"/>
<rect x="81.45" y="629.02" width="4.1" height="4.1" fill="none" stroke="#141414" stroke-width="0.95"/>
<rect x="111.95" y="616.75" width="4.1" height="4.1" fill="none" stroke="#141414" stroke-width="0.95"/>
<rect x="151.45" y="616.75" width="4.1" height="4.1" fill="none" stroke="#141414" stroke-width="0.95"/>
<rect x="189.45" y="604.48" width="4.1" height="4.1" fill="none" stroke="#141414" stroke-width="0.95"/>
<rect x="218.75" y="604.48" width="4.1" height="4.1" fill="none" stroke="#141414" stroke-width="0.95"/>
<rect x="264.25" y="616.75" width="4.1" height="4.1" fill="none" stroke="#141414" stroke-width="0.95"/>
<rect x="371.95" y="641.29" width="4.1" height="4.1" fill="none" stroke="#141414" stroke-width="0.95"/>
<rect x="483.95" y="616.75" width="4.1" height="4.1" fill="none" stroke="#141414" stroke-width="0.95"/>
<rect x="141.45" y="653.56" width="4.1" height="4.1" fill="none" stroke="#141414" stroke-width="0.95"/>
<rect x="193.45" y="641.29" width="4.1" height="4.1" fill="none" stroke="#141414" stroke-width="0.95"/>
<rect x="249.45" y="616.75" width="4.1" height="4.1" fill="none" stroke="#141414" stroke-width="0.95"/>
<rect x="301.95" y="604.48" width="4.1" height="4.1" fill="none" stroke="#141414" stroke-width="0.95"/>
<rect x="341.45" y="555.40" width="4.1" height="4.1" fill="none" stroke="#141414" stroke-width="0.95"/>
<rect x="377.95" y="506.32" width="4.1" height="4.1" fill="none" stroke="#141414" stroke-width="0.95"/>
<rect x="416.45" y="469.51" width="4.1" height="4.1" fill="none" stroke="#141414" stroke-width="0.95"/>
<rect x="444.95" y="432.70" width="4.1" height="4.1" fill="none" stroke="#141414" stroke-width="0.95"/>
<rect x="45.95" y="629.02" width="4.1" height="4.1" fill="none" stroke="#141414" stroke-width="0.95"/>
<rect x="66.95" y="629.02" width="4.1" height="4.1" fill="none" stroke="#141414" stroke-width="0.95"/>
<rect x="175.95" y="629.02" width="4.1" height="4.1" fill="none" stroke="#141414" stroke-width="0.95"/>
<rect x="244.95" y="604.48" width="4.1" height="4.1" fill="none" stroke="#141414" stroke-width="0.95"/>
<rect x="303.95" y="616.75" width="4.1" height="4.1" fill="none" stroke="#141414" stroke-width="0.95"/>
<rect x="336.55" y="629.02" width="4.1" height="4.1" fill="none" stroke="#141414" stroke-width="0.95"/>
<rect x="416.95" y="641.29" width="4.1" height="4.1" fill="none" stroke="#141414" stroke-width="0.95"/>
<rect x="457.35" y="653.56" width="4.1" height="4.1" fill="none" stroke="#141414" stroke-width="0.95"/>
<rect x="494.45" y="653.56" width="4.1" height="4.1" fill="none" stroke="#141414" stroke-width="0.95"/>
<rect x="45.95" y="616.75" width="4.1" height="4.1" fill="none" stroke="#141414" stroke-width="0.95"/>
<rect x="178.95" y="653.56" width="4.1" height="4.1" fill="none" stroke="#141414" stroke-width="0.95"/>
<rect x="245.45" y="653.56" width="4.1" height="4.1" fill="none" stroke="#141414" stroke-width="0.95"/>
<rect x="284.95" y="641.29" width="4.1" height="4.1" fill="none" stroke="#141414" stroke-width="0.95"/>
<rect x="407.15" y="665.83" width="4.1" height="4.1" fill="none" stroke="#141414" stroke-width="0.95"/>
<rect x="45.95" y="653.56" width="4.1" height="4.1" fill="none" stroke="#141414" stroke-width="0.95"/>
<rect x="102.95" y="653.56" width="4.1" height="4.1" fill="none" stroke="#141414" stroke-width="0.95"/>
<rect x="129.95" y="665.83" width="4.1" height="4.1" fill="none" stroke="#141414" stroke-width="0.95"/>
<rect x="135.95" y="665.83" width="4.1" height="4.1" fill="none" stroke="#141414" stroke-width="0.95"/>
<rect x="160.95" y="665.83" width="4.1" height="4.1" fill="none" stroke="#141414" stroke-width="0.95"/>
<rect x="189.45" y="665.83" width="4.1" height="4.1" fill="none" stroke="#141414" stroke-width="0.95"/>
<rect x="216.95" y="678.10" width="4.1" height="4.1" fill="none" stroke="#141414" stroke-width="0.95"/>
<rect x="245.95" y="678.10" width="4.1" height="4.1" fill="none" stroke="#141414" stroke-width="0.95"/>
<rect x="273.95" y="678.10" width="4.1" height="4.1" fill="none" stroke="#141414" stroke-width="0.95"/>
<rect x="304.95" y="665.83" width="4.1" height="4.1" fill="none" stroke="#141414" stroke-width="0.95"/>
<rect x="329.95" y="665.83" width="4.1" height="4.1" fill="none" stroke="#141414" stroke-width="0.95"/>
<rect x="358.75" y="653.56" width="4.1" height="4.1" fill="none" stroke="#141414" stroke-width="0.95"/>
<rect x="403.75" y="629.02" width="4.1" height="4.1" fill="none" stroke="#141414" stroke-width="0.95"/>
<rect x="424.45" y="629.02" width="4.1" height="4.1" fill="none" stroke="#141414" stroke-width="0.95"/>
<rect x="444.55" y="641.29" width="4.1" height="4.1" fill="none" stroke="#141414" stroke-width="0.95"/>
<rect x="476.45" y="629.02" width="4.1" height="4.1" fill="none" stroke="#141414" stroke-width="0.95"/>
<rect x="45.95" y="678.10" width="4.1" height="4.1" fill="none" stroke="#141414" stroke-width="0.95"/>
<rect x="88.45" y="678.10" width="4.1" height="4.1" fill="none" stroke="#141414" stroke-width="0.95"/>
<rect x="185.95" y="678.10" width="4.1" height="4.1" fill="none" stroke="#141414" stroke-width="0.95"/>
<rect x="213.45" y="690.37" width="4.1" height="4.1" fill="none" stroke="#141414" stroke-width="0.95"/>
<rect x="222.75" y="690.37" width="4.1" height="4.1" fill="none" stroke="#141414" stroke-width="0.95"/>
<rect x="232.95" y="690.37" width="4.1" height="4.1" fill="none" stroke="#141414" stroke-width="0.95"/>
<rect x="252.95" y="690.37" width="4.1" height="4.1" fill="none" stroke="#141414" stroke-width="0.95"/>
<rect x="270.45" y="690.37" width="4.1" height="4.1" fill="none" stroke="#141414" stroke-width="0.95"/>
<rect x="287.95" y="690.37" width="4.1" height="4.1" fill="none" stroke="#141414" stroke-width="0.95"/>
<rect x="351.75" y="665.83" width="4.1" height="4.1" fill="none" stroke="#141414" stroke-width="0.95"/>
<rect x="402.65" y="678.10" width="4.1" height="4.1" fill="none" stroke="#141414" stroke-width="0.95"/>
<rect x="446.25" y="678.10" width="4.1" height="4.1" fill="none" stroke="#141414" stroke-width="0.95"/>
<rect x="45.95" y="690.37" width="4.1" height="4.1" fill="none" stroke="#141414" stroke-width="0.95"/>
<rect x="59.95" y="690.37" width="4.1" height="4.1" fill="none" stroke="#141414" stroke-width="0.95"/>
<rect x="110.45" y="690.37" width="4.1" height="4.1" fill="none" stroke="#141414" stroke-width="0.95"/>
<rect x="136.95" y="702.64" width="4.1" height="4.1" fill="none" stroke="#141414" stroke-width="0.95"/>
<rect x="166.95" y="702.64" width="4.1" height="4.1" fill="none" stroke="#141414" stroke-width="0.95"/>
<rect x="189.45" y="690.37" width="4.1" height="4.1" fill="none" stroke="#141414" stroke-width="0.95"/>
<rect x="297.95" y="690.37" width="4.1" height="4.1" fill="none" stroke="#141414" stroke-width="0.95"/>
<rect x="328.55" y="690.37" width="4.1" height="4.1" fill="none" stroke="#141414" stroke-width="0.95"/>
<rect x="103.45" y="702.64" width="4.1" height="4.1" fill="none" stroke="#141414" stroke-width="0.95"/>
<rect x="159.95" y="714.91" width="4.1" height="4.1" fill="none" stroke="#141414" stroke-width="0.95"/>
<rect x="189.45" y="702.64" width="4.1" height="4.1" fill="none" stroke="#141414" stroke-width="0.95"/>
<rect x="197.95" y="714.91" width="4.1" height="4.1" fill="none" stroke="#141414" stroke-width="0.95"/>
<rect x="216.95" y="714.91" width="4.1" height="4.1" fill="none" stroke="#141414" stroke-width="0.95"/>
<rect x="260.95" y="702.64" width="4.1" height="4.1" fill="none" stroke="#141414" stroke-width="0.95"/>
<rect x="273.95" y="702.64" width="4.1" height="4.1" fill="none" stroke="#141414" stroke-width="0.95"/>
<rect x="295.65" y="714.91" width="4.1" height="4.1" fill="none" stroke="#141414" stroke-width="0.95"/>
<rect x="344.95" y="714.91" width="4.1" height="4.1" fill="none" stroke="#141414" stroke-width="0.95"/>
<rect x="387.95" y="714.91" width="4.1" height="4.1" fill="none" stroke="#141414" stroke-width="0.95"/>
<rect x="425.55" y="714.91" width="4.1" height="4.1" fill="none" stroke="#141414" stroke-width="0.95"/>
<rect x="463.55" y="714.91" width="4.1" height="4.1" fill="none" stroke="#141414" stroke-width="0.95"/>
<line x1="46.4" y1="809.4" x2="46.4" y2="1166.4" stroke="#141414" stroke-width="0.95"/>
<line x1="45.9" y1="1165.9" x2="519.5" y2="1165.9" stroke="#141414" stroke-width="0.95"/>
<line x1="43.2" y1="1161.5" x2="46.4" y2="1161.5" stroke="#141414" stroke-width="1.0"/>
<text x="30.8" y="1165.4" font-size="9.8" font-weight="bold" text-anchor="start" xml:space="preserve" textLength="10.0" lengthAdjust="spacingAndGlyphs" stroke="#141414" stroke-width="0.35">80</text>
<line x1="44.6" y1="1154.5" x2="46.4" y2="1154.5" stroke="#141414" stroke-width="0.8"/>
<line x1="44.6" y1="1147.6" x2="46.4" y2="1147.6" stroke="#141414" stroke-width="0.8"/>
<line x1="44.6" y1="1140.6" x2="46.4" y2="1140.6" stroke="#141414" stroke-width="0.8"/>
<line x1="44.6" y1="1133.7" x2="46.4" y2="1133.7" stroke="#141414" stroke-width="0.8"/>
<line x1="43.2" y1="1126.7" x2="46.4" y2="1126.7" stroke="#141414" stroke-width="1.0"/>
<text x="30.8" y="1130.6" font-size="9.8" font-weight="bold" text-anchor="start" xml:space="preserve" textLength="10.0" lengthAdjust="spacingAndGlyphs" stroke="#141414" stroke-width="0.35">90</text>
<line x1="44.6" y1="1119.7" x2="46.4" y2="1119.7" stroke="#141414" stroke-width="0.8"/>
<line x1="44.6" y1="1112.8" x2="46.4" y2="1112.8" stroke="#141414" stroke-width="0.8"/>
<line x1="44.6" y1="1105.8" x2="46.4" y2="1105.8" stroke="#141414" stroke-width="0.8"/>
<line x1="44.6" y1="1098.9" x2="46.4" y2="1098.9" stroke="#141414" stroke-width="0.8"/>
<line x1="43.2" y1="1091.9" x2="46.4" y2="1091.9" stroke="#141414" stroke-width="1.0"/>
<text x="25.8" y="1095.8" font-size="9.8" font-weight="bold" text-anchor="start" xml:space="preserve" textLength="15.0" lengthAdjust="spacingAndGlyphs" stroke="#141414" stroke-width="0.35">100</text>
<line x1="44.6" y1="1084.9" x2="46.4" y2="1084.9" stroke="#141414" stroke-width="0.8"/>
<line x1="44.6" y1="1078.0" x2="46.4" y2="1078.0" stroke="#141414" stroke-width="0.8"/>
<line x1="44.6" y1="1071.0" x2="46.4" y2="1071.0" stroke="#141414" stroke-width="0.8"/>
<line x1="44.6" y1="1064.1" x2="46.4" y2="1064.1" stroke="#141414" stroke-width="0.8"/>
<line x1="43.2" y1="1057.1" x2="46.4" y2="1057.1" stroke="#141414" stroke-width="1.0"/>
<text x="25.8" y="1061.0" font-size="9.8" font-weight="bold" text-anchor="start" xml:space="preserve" textLength="15.0" lengthAdjust="spacingAndGlyphs" stroke="#141414" stroke-width="0.35">110</text>
<line x1="44.6" y1="1050.1" x2="46.4" y2="1050.1" stroke="#141414" stroke-width="0.8"/>
<line x1="44.6" y1="1043.2" x2="46.4" y2="1043.2" stroke="#141414" stroke-width="0.8"/>
<line x1="44.6" y1="1036.2" x2="46.4" y2="1036.2" stroke="#141414" stroke-width="0.8"/>
<line x1="44.6" y1="1029.3" x2="46.4" y2="1029.3" stroke="#141414" stroke-width="0.8"/>
<line x1="43.2" y1="1022.3" x2="46.4" y2="1022.3" stroke="#141414" stroke-width="1.0"/>
<text x="25.8" y="1026.2" font-size="9.8" font-weight="bold" text-anchor="start" xml:space="preserve" textLength="15.0" lengthAdjust="spacingAndGlyphs" stroke="#141414" stroke-width="0.35">120</text>
<line x1="44.6" y1="1015.3" x2="46.4" y2="1015.3" stroke="#141414" stroke-width="0.8"/>
<line x1="44.6" y1="1008.4" x2="46.4" y2="1008.4" stroke="#141414" stroke-width="0.8"/>
<line x1="44.6" y1="1001.4" x2="46.4" y2="1001.4" stroke="#141414" stroke-width="0.8"/>
<line x1="44.6" y1="994.5" x2="46.4" y2="994.5" stroke="#141414" stroke-width="0.8"/>
<line x1="43.2" y1="987.5" x2="46.4" y2="987.5" stroke="#141414" stroke-width="1.0"/>
<text x="25.8" y="991.4" font-size="9.8" font-weight="bold" text-anchor="start" xml:space="preserve" textLength="15.0" lengthAdjust="spacingAndGlyphs" stroke="#141414" stroke-width="0.35">130</text>
<line x1="44.6" y1="980.5" x2="46.4" y2="980.5" stroke="#141414" stroke-width="0.8"/>
<line x1="44.6" y1="973.6" x2="46.4" y2="973.6" stroke="#141414" stroke-width="0.8"/>
<line x1="44.6" y1="966.6" x2="46.4" y2="966.6" stroke="#141414" stroke-width="0.8"/>
<line x1="44.6" y1="959.7" x2="46.4" y2="959.7" stroke="#141414" stroke-width="0.8"/>
<line x1="43.2" y1="952.7" x2="46.4" y2="952.7" stroke="#141414" stroke-width="1.0"/>
<text x="25.8" y="956.6" font-size="9.8" font-weight="bold" text-anchor="start" xml:space="preserve" textLength="15.0" lengthAdjust="spacingAndGlyphs" stroke="#141414" stroke-width="0.35">140</text>
<line x1="44.6" y1="945.7" x2="46.4" y2="945.7" stroke="#141414" stroke-width="0.8"/>
<line x1="44.6" y1="938.8" x2="46.4" y2="938.8" stroke="#141414" stroke-width="0.8"/>
<line x1="44.6" y1="931.8" x2="46.4" y2="931.8" stroke="#141414" stroke-width="0.8"/>
<line x1="44.6" y1="924.9" x2="46.4" y2="924.9" stroke="#141414" stroke-width="0.8"/>
<line x1="43.2" y1="917.9" x2="46.4" y2="917.9" stroke="#141414" stroke-width="1.0"/>
<text x="25.8" y="921.8" font-size="9.8" font-weight="bold" text-anchor="start" xml:space="preserve" textLength="15.0" lengthAdjust="spacingAndGlyphs" stroke="#141414" stroke-width="0.35">150</text>
<line x1="44.6" y1="910.9" x2="46.4" y2="910.9" stroke="#141414" stroke-width="0.8"/>
<line x1="44.6" y1="904.0" x2="46.4" y2="904.0" stroke="#141414" stroke-width="0.8"/>
<line x1="44.6" y1="897.0" x2="46.4" y2="897.0" stroke="#141414" stroke-width="0.8"/>
<line x1="44.6" y1="890.1" x2="46.4" y2="890.1" stroke="#141414" stroke-width="0.8"/>
<line x1="43.2" y1="883.1" x2="46.4" y2="883.1" stroke="#141414" stroke-width="1.0"/>
<text x="25.8" y="887.0" font-size="9.8" font-weight="bold" text-anchor="start" xml:space="preserve" textLength="15.0" lengthAdjust="spacingAndGlyphs" stroke="#141414" stroke-width="0.35">160</text>
<line x1="44.6" y1="876.1" x2="46.4" y2="876.1" stroke="#141414" stroke-width="0.8"/>
<line x1="44.6" y1="869.2" x2="46.4" y2="869.2" stroke="#141414" stroke-width="0.8"/>
<line x1="44.6" y1="862.2" x2="46.4" y2="862.2" stroke="#141414" stroke-width="0.8"/>
<line x1="44.6" y1="855.3" x2="46.4" y2="855.3" stroke="#141414" stroke-width="0.8"/>
<line x1="43.2" y1="848.3" x2="46.4" y2="848.3" stroke="#141414" stroke-width="1.0"/>
<text x="25.8" y="852.2" font-size="9.8" font-weight="bold" text-anchor="start" xml:space="preserve" textLength="15.0" lengthAdjust="spacingAndGlyphs" stroke="#141414" stroke-width="0.35">170</text>
<line x1="44.6" y1="841.3" x2="46.4" y2="841.3" stroke="#141414" stroke-width="0.8"/>
<line x1="44.6" y1="834.4" x2="46.4" y2="834.4" stroke="#141414" stroke-width="0.8"/>
<line x1="44.6" y1="827.4" x2="46.4" y2="827.4" stroke="#141414" stroke-width="0.8"/>
<line x1="44.6" y1="820.5" x2="46.4" y2="820.5" stroke="#141414" stroke-width="0.8"/>
<line x1="43.2" y1="813.5" x2="46.4" y2="813.5" stroke="#141414" stroke-width="1.0"/>
<text x="25.8" y="817.4" font-size="9.8" font-weight="bold" text-anchor="start" xml:space="preserve" textLength="15.0" lengthAdjust="spacingAndGlyphs" stroke="#141414" stroke-width="0.35">180</text>
<line x1="64.8" y1="1165.9" x2="64.8" y2="1169.5" stroke="#141414" stroke-width="1.0"/>
<text x="45.5" y="1181.4" font-size="8.2" font-weight="bold" text-anchor="start" xml:space="preserve" textLength="38.6" lengthAdjust="spacingAndGlyphs" stroke="#141414" stroke-width="0.55">BASELINE</text>
<line x1="173.4" y1="1165.9" x2="173.4" y2="1169.5" stroke="#141414" stroke-width="1.0"/>
<text x="171.0" y="1181.7" font-size="7.8" font-weight="bold" text-anchor="start" xml:space="preserve" textLength="4.9" lengthAdjust="spacingAndGlyphs" stroke="#141414" stroke-width="0.35">1</text>
<line x1="282.7" y1="1165.9" x2="282.7" y2="1169.5" stroke="#141414" stroke-width="1.0"/>
<text x="280.2" y="1181.7" font-size="7.8" font-weight="bold" text-anchor="start" xml:space="preserve" textLength="4.9" lengthAdjust="spacingAndGlyphs" stroke="#141414" stroke-width="0.35">2</text>
<line x1="391.1" y1="1165.9" x2="391.1" y2="1169.5" stroke="#141414" stroke-width="1.0"/>
<text x="388.7" y="1181.7" font-size="7.8" font-weight="bold" text-anchor="start" xml:space="preserve" textLength="4.9" lengthAdjust="spacingAndGlyphs" stroke="#141414" stroke-width="0.35">3</text>
<line x1="500.3" y1="1165.9" x2="500.3" y2="1169.5" stroke="#141414" stroke-width="1.0"/>
<text x="497.9" y="1181.7" font-size="7.8" font-weight="bold" text-anchor="start" xml:space="preserve" textLength="4.9" lengthAdjust="spacingAndGlyphs" stroke="#141414" stroke-width="0.35">4</text>
<text x="219.5" y="1201.3" font-size="10.7" font-weight="bold" text-anchor="start" xml:space="preserve" textLength="126.6" lengthAdjust="spacingAndGlyphs" stroke="#141414" stroke-width="0.35">DAYS AFTER FIRST DOSE</text>
<text x="-57.0" y="986.8" font-size="10.4" font-weight="bold" text-anchor="start" xml:space="preserve" textLength="144" lengthAdjust="spacingAndGlyphs" transform="rotate(-90 15.0 986.8)" stroke="#141414" stroke-width="0.55">ADJUSTED SERUM CREATININE (%)</text>
<text x="0.3" y="827.0" font-size="24.6" font-weight="bold" text-anchor="start" xml:space="preserve" textLength="16.9" lengthAdjust="spacingAndGlyphs" stroke="#141414" stroke-width="0.7">C</text>
<line x1="64.8" y1="869.5" x2="64.8" y2="1066.1" stroke="#262626" stroke-width="1.0"/>
<line x1="53.4" y1="895.6" x2="76.2" y2="895.6" stroke="#262626" stroke-width="1.0"/>
<line x1="53.4" y1="1066.1" x2="76.2" y2="1066.1" stroke="#262626" stroke-width="1.0"/>
<line x1="59.1" y1="869.5" x2="70.5" y2="869.5" stroke="#262626" stroke-width="1.0"/>
<line x1="59.1" y1="1008.7" x2="70.5" y2="1008.7" stroke="#262626" stroke-width="1.0"/>
<line x1="173.4" y1="907.8" x2="173.4" y2="1088.8" stroke="#262626" stroke-width="1.0"/>
<line x1="162.0" y1="923.5" x2="184.8" y2="923.5" stroke="#262626" stroke-width="1.0"/>
<line x1="162.0" y1="1088.8" x2="184.8" y2="1088.8" stroke="#262626" stroke-width="1.0"/>
<line x1="167.7" y1="907.8" x2="179.1" y2="907.8" stroke="#262626" stroke-width="1.0"/>
<line x1="167.7" y1="1081.8" x2="179.1" y2="1081.8" stroke="#262626" stroke-width="1.0"/>
<line x1="282.7" y1="883.4" x2="282.7" y2="1094.0" stroke="#262626" stroke-width="1.0"/>
<line x1="271.3" y1="883.4" x2="294.1" y2="883.4" stroke="#262626" stroke-width="1.0"/>
<line x1="271.3" y1="1094.0" x2="294.1" y2="1094.0" stroke="#262626" stroke-width="1.0"/>
<line x1="277.0" y1="942.6" x2="288.4" y2="942.6" stroke="#262626" stroke-width="1.0"/>
<line x1="277.0" y1="1067.9" x2="288.4" y2="1067.9" stroke="#262626" stroke-width="1.0"/>
<line x1="391.1" y1="909.5" x2="391.1" y2="1111.4" stroke="#262626" stroke-width="1.0"/>
<line x1="379.7" y1="909.5" x2="402.5" y2="909.5" stroke="#262626" stroke-width="1.0"/>
<line x1="379.7" y1="1073.1" x2="402.5" y2="1073.1" stroke="#262626" stroke-width="1.0"/>
<line x1="385.4" y1="1010.5" x2="396.8" y2="1010.5" stroke="#262626" stroke-width="1.0"/>
<line x1="385.4" y1="1111.4" x2="396.8" y2="1111.4" stroke="#262626" stroke-width="1.0"/>
<line x1="500.3" y1="815.6" x2="500.3" y2="1135.7" stroke="#262626" stroke-width="1.0"/>
<line x1="488.9" y1="815.6" x2="511.7" y2="815.6" stroke="#262626" stroke-width="1.0"/>
<line x1="488.9" y1="1040.0" x2="511.7" y2="1040.0" stroke="#262626" stroke-width="1.0"/>
<line x1="494.6" y1="1036.6" x2="506.0" y2="1036.6" stroke="#262626" stroke-width="1.0"/>
<line x1="494.6" y1="1135.7" x2="506.0" y2="1135.7" stroke="#262626" stroke-width="1.0"/>
<polyline points="64.8,939.1 173.4,994.8 282.7,1005.2 391.1,1060.9 500.3,1087.0" fill="none" stroke="#141414" stroke-width="1.12" stroke-linejoin="round"/>
<polyline points="64.8,980.9 173.4,1007.0 282.7,987.8 391.1,991.3 500.3,926.9" fill="none" stroke="#141414" stroke-width="1.12" stroke-linejoin="round"/>
<rect x="61.8" y="936.1" width="6" height="6" fill="#141414"/>
<rect x="170.4" y="991.8" width="6" height="6" fill="#141414"/>
<rect x="279.7" y="1002.2" width="6" height="6" fill="#141414"/>
<rect x="388.1" y="1057.9" width="6" height="6" fill="#141414"/>
<rect x="497.3" y="1084.0" width="6" height="6" fill="#141414"/>
<polygon points="64.80,976.79 66.12,979.47 69.08,979.90 66.94,981.98 67.45,984.93 64.80,983.54 62.15,984.93 62.66,981.98 60.52,979.90 63.48,979.47" fill="#141414"/>
<polygon points="173.40,1002.89 174.72,1005.57 177.68,1006.00 175.54,1008.08 176.05,1011.03 173.40,1009.64 170.75,1011.03 171.26,1008.08 169.12,1006.00 172.08,1005.57" fill="#141414"/>
<polygon points="282.70,983.75 284.02,986.43 286.98,986.86 284.84,988.94 285.35,991.89 282.70,990.50 280.05,991.89 280.56,988.94 278.42,986.86 281.38,986.43" fill="#141414"/>
<polygon points="391.10,987.23 392.42,989.91 395.38,990.34 393.24,992.42 393.75,995.37 391.10,993.98 388.45,995.37 388.96,992.42 386.82,990.34 389.78,989.91" fill="#141414"/>
<polygon points="500.30,922.85 501.62,925.53 504.58,925.96 502.44,928.04 502.95,930.99 500.30,929.60 497.65,930.99 498.16,928.04 496.02,925.96 498.98,925.53" fill="#141414"/>
</svg>
</body></html>
